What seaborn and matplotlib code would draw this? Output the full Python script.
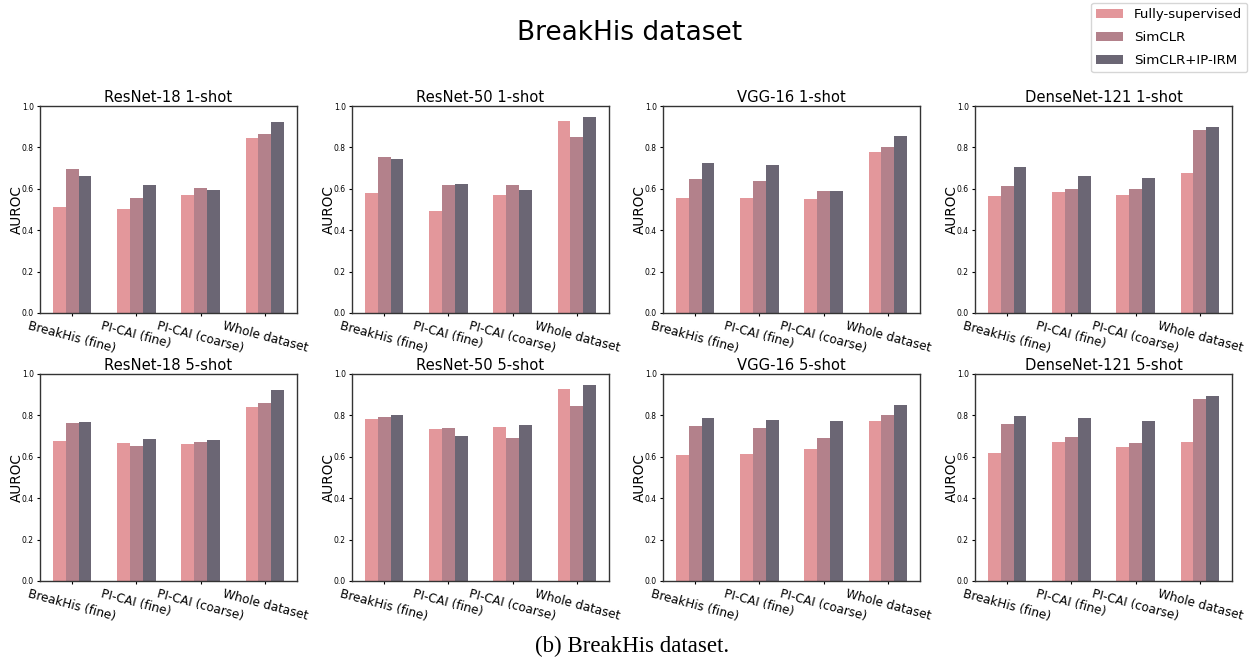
import matplotlib
matplotlib.use("Agg")
import matplotlib.pyplot as plt
import pandas as pd
import seaborn as sns

datasets = ['BreakHis (fine)', 'PI-CAI (fine)', 'PI-CAI (coarse)', 'Whole dataset']
methods = ['Fully-supervised', 'SimCLR', 'SimCLR+IP-IRM']
colors = ['#e3979b', '#b3818b', '#6b6674']

titles = ['ResNet-18 1-shot', 'ResNet-50 1-shot', 'VGG-16 1-shot', 'DenseNet-121 1-shot',
          'ResNet-18 5-shot', 'ResNet-50 5-shot', 'VGG-16 5-shot', 'DenseNet-121 5-shot']

# per panel: one list per method, values in dataset order
resnet18_1 = [[0.511, 0.503, 0.571, 0.846], [0.696, 0.555, 0.603, 0.865], [0.662, 0.619, 0.595, 0.923]]
resnet50_1 = [[0.580, 0.494, 0.571, 0.928], [0.754, 0.619, 0.619, 0.850], [0.744, 0.624, 0.595, 0.947]]
vgg16_1 = [[0.555, 0.555, 0.551, 0.777], [0.648, 0.638, 0.590, 0.802], [0.725, 0.715, 0.590, 0.855]]
densenet121_1 = [[0.566, 0.585, 0.571, 0.677], [0.614, 0.600, 0.600, 0.884], [0.706, 0.662, 0.653, 0.899]]
resnet18_5 = [[0.677, 0.668, 0.663, 0.842], [0.765, 0.653, 0.673, 0.861], [0.769, 0.687, 0.682, 0.924]]
resnet50_5 = [[0.784, 0.735, 0.745, 0.929], [0.794, 0.740, 0.692, 0.847], [0.803, 0.702, 0.755, 0.948]]
vgg16_5 = [[0.610, 0.615, 0.639, 0.774], [0.750, 0.740, 0.692, 0.803], [0.789, 0.779, 0.774, 0.852]]
densenet121_5 = [[0.619, 0.673, 0.648, 0.673], [0.760, 0.697, 0.668, 0.881], [0.798, 0.789, 0.774, 0.895]]

panels = [resnet18_1, resnet50_1, vgg16_1, densenet121_1,
          resnet18_5, resnet50_5, vgg16_5, densenet121_5]

sns.set_style("ticks")
plt.rcParams['font.family'] = ['DejaVu Sans']
plt.rcParams['text.color'] = 'black'
plt.rcParams['axes.labelcolor'] = 'black'
plt.rcParams['xtick.color'] = 'black'
plt.rcParams['ytick.color'] = 'black'

fig = plt.figure(figsize=(12.55, 6.6), dpi=100)

lefts = [40, 352, 663, 975]
bottoms = [313, 581]
w, h = 257, 207

for i, (title, vals) in enumerate(zip(titles, panels)):
    rows = []
    for m, series in zip(methods, vals):
        for d, v in zip(datasets, series):
            rows.append({'dataset': d, 'method': m, 'AUROC': v})
    df = pd.DataFrame(rows)
    col, row = i % 4, i // 4
    ax = fig.add_axes([lefts[col] / 1255, 1 - bottoms[row] / 660, w / 1255, h / 660])
    sns.barplot(data=df, x='dataset', y='AUROC', hue='method', hue_order=methods,
                palette=colors, width=0.6, saturation=1, linewidth=0, edgecolor='none',
                ax=ax, legend=(i == 0))
    ax.set_ylim(0, 1.0)
    ax.set_yticks([0.0, 0.2, 0.4, 0.6, 0.8, 1.0])
    ax.tick_params(axis='y', labelsize=5.5, length=2.5, pad=2)
    ax.tick_params(axis='x', labelsize=8.7, length=2.5, pad=2)
    for lab in ax.get_xticklabels():
        lab.set_rotation(-15)
        lab.set_ha('center')
    ax.set_xlabel('')
    ax.set_ylabel('AUROC', fontsize=9.8, labelpad=-1.5)
    ax.set_title(title, fontsize=10.6, pad=3)
    for sp in ax.spines.values():
        sp.set_color('#333333')
        sp.set_linewidth(1.0)
    if i == 0:
        handles, labels = ax.get_legend_handles_labels()
        ax.get_legend().remove()

fig.legend(handles, labels, loc='upper right', bbox_to_anchor=(0.996, 1.0),
           fontsize=9.6, frameon=True, borderaxespad=0.2, labelspacing=0.75)
fig.text(0.502, 0.95, 'BreakHis dataset', ha='center', va='center', fontsize=19)
fig.text(0.504, 0.02, '(b) BreakHis dataset.', ha='center', va='center',
         fontsize=16.5, family='Liberation Serif')

fig.savefig('out.png', dpi=100)
